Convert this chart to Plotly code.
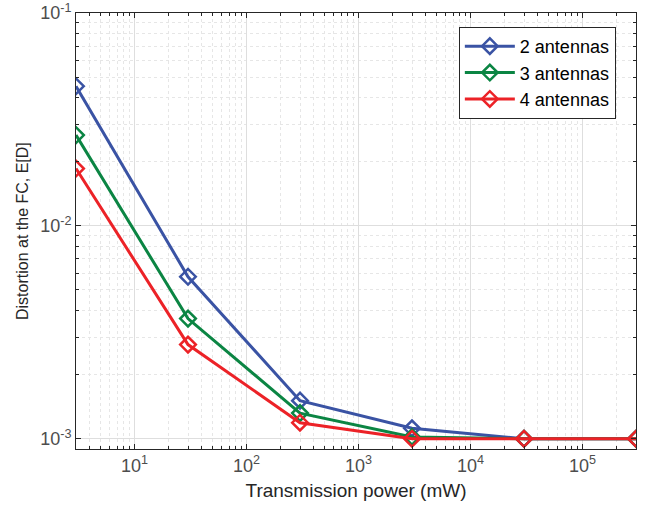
import plotly.graph_objects as go

power_mw = [3, 30, 300, 3000, 30000, 300000]
series_names = ["2 antennas", "3 antennas", "4 antennas"]
dist_2 = [0.0453, 0.00577, 0.00151, 0.00112, 0.00100, 0.00100]
dist_3 = [0.0267, 0.00367, 0.00132, 0.00102, 0.00100, 0.00100]
dist_4 = [0.0186, 0.00277, 0.00119, 0.00100, 0.00100, 0.00100]
colors = ["#3a53a4", "#0b8543", "#ec2227"]

x_tickvals = [10, 100, 1000, 10000, 100000]
x_ticktext = ["10<sup>1</sup>", "10<sup>2</sup>", "10<sup>3</sup>", "10<sup>4</sup>", "10<sup>5</sup>"]
y_tickvals = [0.001, 0.01, 0.1]
y_ticktext = ["10<sup>-3</sup>", "10<sup>-2</sup>", "10<sup>-1</sup>"]

FONT = "Liberation Sans, Arial"

fig = go.Figure()
for name, ys, c in zip(series_names, [dist_2, dist_3, dist_4], colors):
    fig.add_trace(go.Scatter(
        x=power_mw, y=ys, name=name, mode="lines+markers",
        line=dict(color=c, width=3),
        marker=dict(symbol="diamond-open", size=12, color=c, line=dict(width=2.5, color=c)),
    ))

axis_common = dict(
    type="log", showline=True, linecolor="#262626", linewidth=1, mirror="allticks",
    ticks="inside", ticklen=5, tickcolor="#262626", automargin=False,
    showgrid=True, gridcolor="#dedede", gridwidth=1,
    tickfont=dict(family=FONT, size=18, color="#4d4d4d"),
    zeroline=False,
    minor=dict(dtick="D1", ticks="inside", ticklen=3, tickcolor="#262626",
               showgrid=True, gridcolor="#e6e6e6", griddash="dot", gridwidth=1),
)

fig.update_xaxes(**axis_common, range=[0.47712, 5.47712],
                 tickvals=x_tickvals, ticktext=x_ticktext,
                 title=dict(text="Transmission power (mW)", standoff=9,
                            font=dict(family=FONT, size=19, color="#262626")))
fig.update_yaxes(**axis_common, range=[-3.048, -0.9999],
                 tickvals=y_tickvals, ticktext=y_ticktext)

fig.add_annotation(text="Distortion at the FC, E[D]", textangle=-90,
                   xref="paper", yref="paper", x=-0.0964, y=0.5,
                   xanchor="center", yanchor="middle", showarrow=False,
                   font=dict(family=FONT, size=16, color="#262626"))

fig.update_layout(
    width=656, height=513,
    margin=dict(l=76, r=20, t=13, b=64),
    plot_bgcolor="white", paper_bgcolor="white",
    showlegend=True,
    legend=dict(x=0.964, y=0.968, xanchor="right", yanchor="top",
                bgcolor="white", bordercolor="#262626", borderwidth=1,
                font=dict(family=FONT, size=18, color="#000000"),
                tracegroupgap=0, itemwidth=50),
)

fig.write_html("out.html", config={"displayModeBar": False},
               post_script="document.body.style.margin='0';document.body.style.padding='0';")
